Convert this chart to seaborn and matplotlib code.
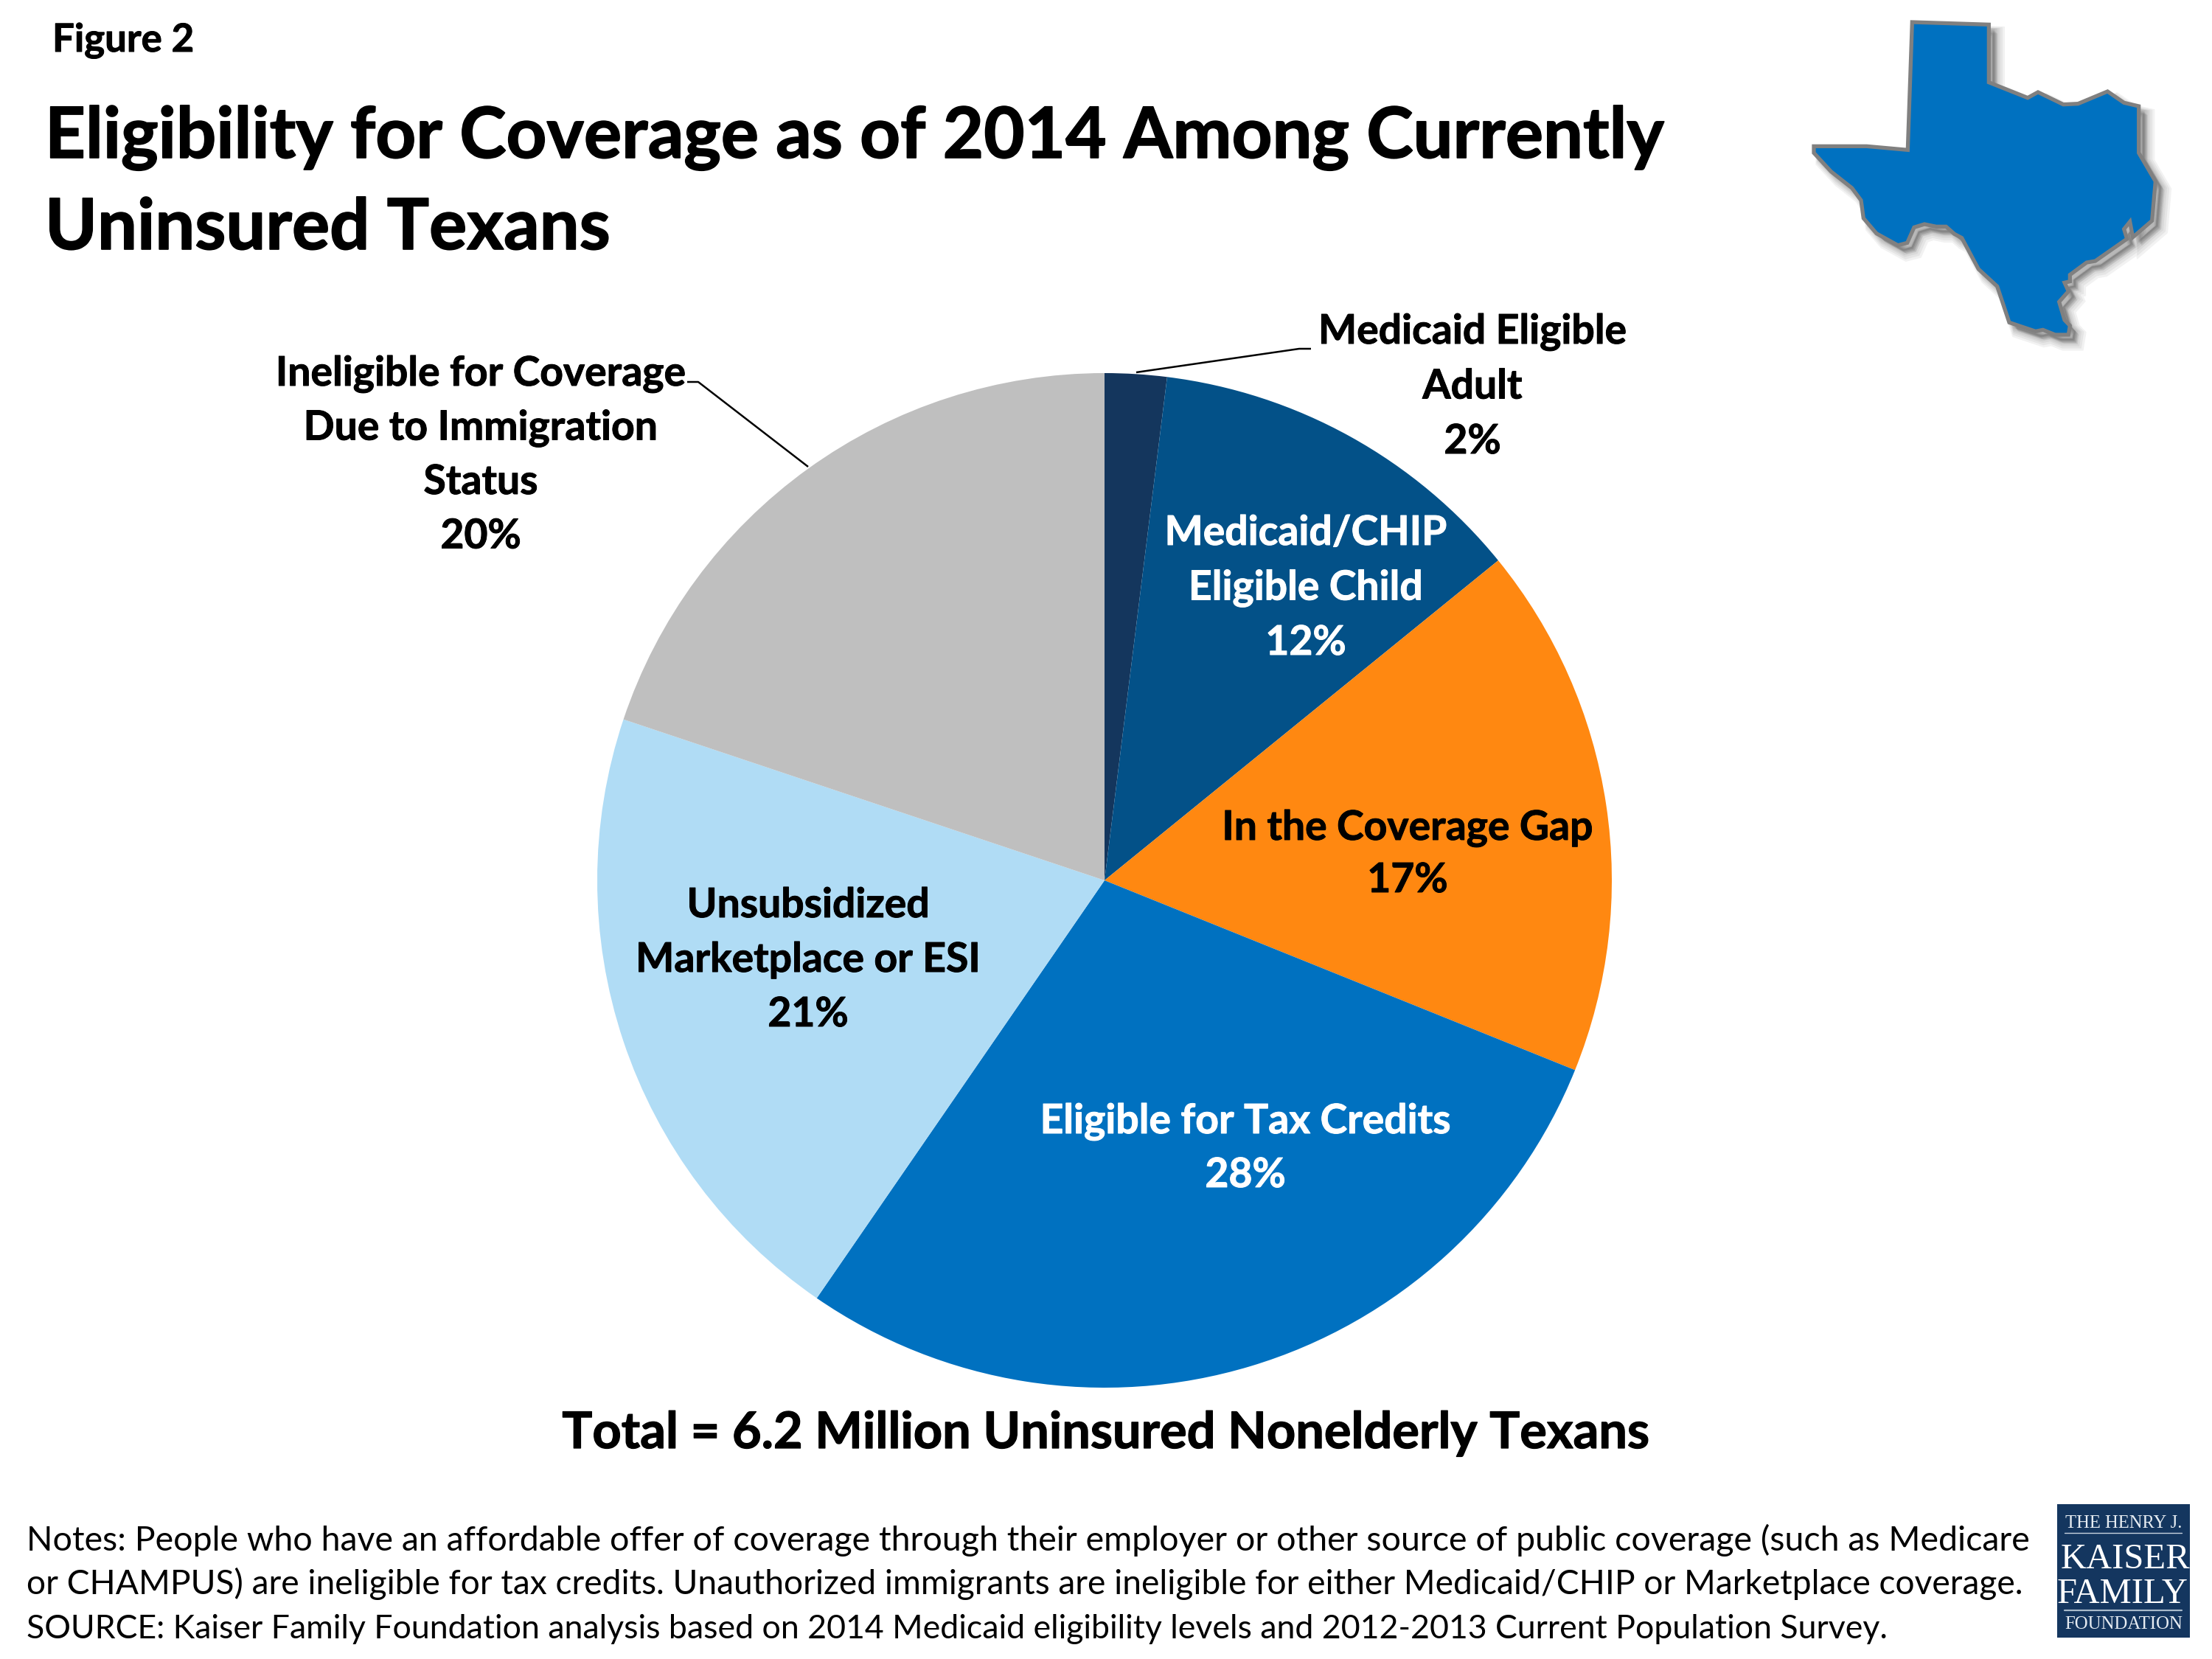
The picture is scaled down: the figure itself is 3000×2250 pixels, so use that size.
import matplotlib
matplotlib.use("Agg")
import matplotlib.pyplot as plt
import matplotlib.patheffects as pe
import seaborn as sns
from matplotlib.patches import Polygon, Rectangle

W, H = 3000, 2250

categories = ["Medicaid Eligible Adult", "Medicaid/CHIP Eligible Child", "In the Coverage Gap",
              "Eligible for Tax Credits", "Unsubsidized Marketplace or ESI",
              "Ineligible for Coverage Due to Immigration Status"]
# printed percentages, and the shares the slices actually cover in the picture
printed_percent = [2, 12, 17, 28, 21, 20]
slice_shares = [1.97, 12.17, 16.96, 28.5, 20.54, 19.86]
colors = ["#14365D", "#035188", "#FF8811", "#0071C0", "#B0DCF5", "#BFBFBF"]

label_lines = [["Medicaid Eligible", "Adult"],
               ["Medicaid/CHIP", "Eligible Child"],
               ["In the Coverage Gap"],
               ["Eligible for Tax Credits"],
               ["Unsubsidized", "Marketplace or ESI"],
               ["Ineligible for Coverage", "Due to Immigration", "Status"]]
label_colors = ["black", "white", "black", "white", "black", "black"]
label_x = [1997, 1771, 1909, 1689, 1096, 652]
label_first_baseline = [466, 739, 1139, 1537, 1244, 523]
label_step = [74.5, 74.5, 71, 73, 74, 73.5]

title_lines = ["Eligibility for Coverage as of 2014 Among Currently", "Uninsured Texans"]
total_text = "Total = 6.2 Million Uninsured Nonelderly Texans"
note_lines = [
    "Notes: People who have an affordable offer of coverage through their employer or other source of public coverage (such as Medicare",
    "or CHAMPUS) are ineligible for tax credits. Unauthorized immigrants are ineligible for either Medicaid/CHIP or Marketplace coverage.",
    "SOURCE: Kaiser Family Foundation analysis based on 2014 Medicaid eligibility levels and 2012-2013 Current Population Survey.",
]
note_sizes = [33.45, 33.2, 32.1]

texas_zoom = [(460,60),(772,70),(772,305),(930,368),(972,345),(1075,395),(1135,392),(1255,342),(1322,388),
              (1382,402),(1382,592),(1450,708),(1436,868),(1358,935),(1346,872),(1322,902),(1334,942),
              (1205,1032),(1170,1038),(1102,1088),(1102,1115),(1080,1120),(1096,1155),(1058,1198),(1080,1272),
              (1102,1295),(1096,1332),(1042,1332),(992,1312),(962,1318),(855,1282),(806,1135),(730,1065),
              (662,938),(632,922),(598,892),(558,892),(510,882),(468,895),(440,958),(402,968),(315,920),
              (262,858),(252,785),(215,735),(130,668),(60,592),(60,565),(275,565),(442,580)]

sns.set_theme(style="white", palette=sns.color_palette(colors))
plt.rcParams["font.family"] = ["Lato", "DejaVu Sans"]

fig = plt.figure(figsize=(W / 100, H / 100), dpi=100, facecolor="white")
ax = fig.add_axes([0, 0, 1, 1])


def Y(py):
    return H - py


def heavy(color, width):
    return [pe.withStroke(linewidth=width, foreground=color)]


ax.pie(slice_shares, colors=sns.color_palette(colors), startangle=90, counterclock=False,
       center=(1498, Y(1194)), radius=688, frame=False,
       wedgeprops={"linewidth": 0})

ax.set_xlim(0, W)
ax.set_ylim(0, H)
ax.set_aspect("equal")
ax.axis("off")

# header
ax.text(71, Y(70), "Figure 2", fontsize=38, fontweight="bold", color="black",
        path_effects=heavy("black", 0.7))
for i, t in enumerate(title_lines):
    ax.text(61, Y(214 + i * 124), t, fontsize=68.9, fontweight="bold", color="black",
            path_effects=heavy("black", 1.2))

# slice labels
for lines, v, col, x, b, s in zip(label_lines, printed_percent, label_colors, label_x,
                                  label_first_baseline, label_step):
    for i, t in enumerate(lines + [f"{v}%"]):
        ax.text(x, Y(b + i * s), t, fontsize=39.8, fontweight="bold", color=col, ha="center",
                path_effects=heavy(col, 0.7))

# leader lines
ax.plot([1541, 1762, 1778], [Y(505), Y(473), Y(473)], color="black", lw=1.8, solid_capstyle="butt")
ax.plot([1096, 947, 932], [Y(633), Y(518), Y(518)], color="black", lw=1.8, solid_capstyle="butt")

# total and notes
ax.text(1500, Y(1964), total_text, fontsize=49.3, fontweight="bold", color="black", ha="center",
        path_effects=heavy("black", 0.9))
for i, (t, fs) in enumerate(zip(note_lines, note_sizes)):
    ax.text(36, Y(2103 + i * 59.5), t, fontsize=fs, color="black")

# Texas outline with soft shadow
tx = [(2440 + x / 3, Y(10 + y / 3)) for x, y in texas_zoom]
for off, lw in [(12, 14), (11, 11), (10, 8), (9, 6), (8, 4), (7, 2)]:
    ax.add_patch(Polygon([(x + off, y - off) for x, y in tx], closed=True, facecolor="#000000",
                         edgecolor="#000000", alpha=0.05, lw=lw, zorder=3))
ax.add_patch(Polygon(tx, closed=True, facecolor="#0071C0", edgecolor="#808080", lw=3.8,
                     joinstyle="miter", zorder=4))

# logo
navy = "#14365F"
ax.add_patch(Rectangle((2790, Y(2221)), 180, 181, facecolor=navy, edgecolor="none", zorder=5))
serif = ["Liberation Serif", "DejaVu Serif"]
ax.text(2880, Y(2072), "THE HENRY J.", family=serif, fontsize=17.7, color="#E6ECF2", ha="center", zorder=6)
ax.plot([2800, 2959], [Y(2079), Y(2079)], color="#C8D3DF", lw=1, zorder=6)
ax.text(2882, Y(2127), "KAISER", family=serif, fontsize=35, color="white", ha="center", zorder=6)
ax.text(2879, Y(2174), "FAMILY", family=serif, fontsize=35, color="white", ha="center", zorder=6)
ax.plot([2800, 2959], [Y(2184), Y(2184)], color="#A9BACB", lw=1.6, zorder=6)
ax.text(2880, Y(2209), "FOUNDATION", family=serif, fontsize=17.9, color="#E6ECF2", ha="center", zorder=6)

fig.savefig("out.png", dpi=100, facecolor="white")
